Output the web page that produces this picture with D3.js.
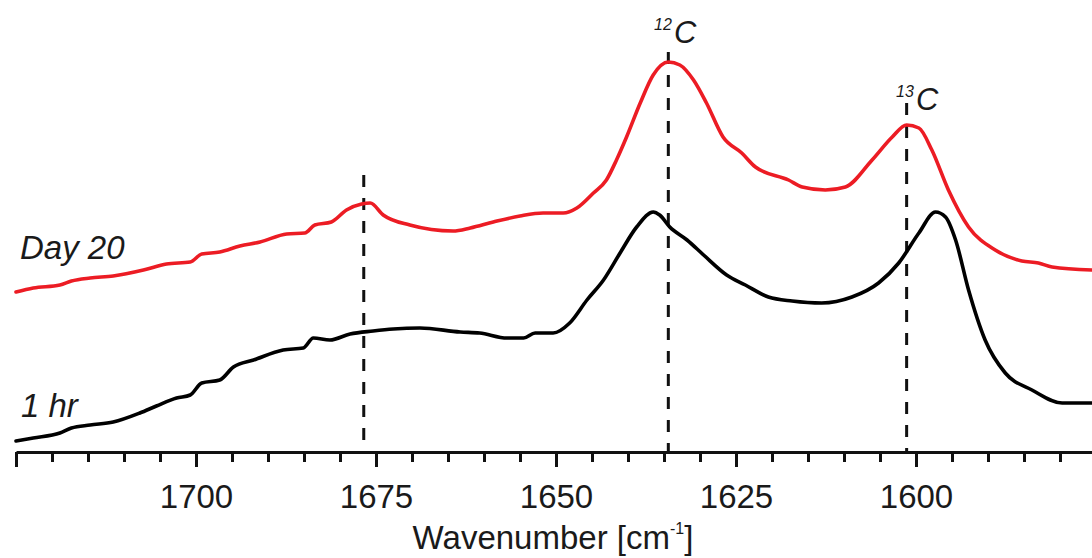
<!DOCTYPE html>
<html>
<head>
<meta charset="utf-8">
<script src="https://cdn.jsdelivr.net/npm/d3@7"></script>
<style>
  html, body { margin: 0; padding: 0; background: #fff; }
  svg { display: block; }
  text { font-family: "Liberation Sans", Arial, Helvetica, sans-serif; fill: #1a1a1a; }
</style>
</head>
<body>
<svg id="chart" width="1092" height="558"></svg>
<script>
// ---- data ----
const day20Wavenumber = [1725.0,1722.6,1718.9,1717.3,1714.7,1711.5,1707.3,1704.1,1700.8,1699.2,1696.7,1693.9,1691.1,1687.4,1684.9,1683.5,1681.2,1679.1,1677.0,1675.8,1674.0,1670.3,1664.3,1661.9,1658.7,1655.0,1651.8,1649.0,1647.1,1644.8,1643.0,1641.6,1640.2,1638.3,1636.5,1634.4,1632.8,1630.9,1629.1,1626.8,1624.2,1622.3,1617.7,1615.8,1612.6,1609.8,1606.1,1603.3,1601.3,1599.6,1597.8,1595.5,1592.7,1589.0,1585.3,1583.0,1581.1,1575.6];
const day20Absorbance = [1.60,1.64,1.67,1.71,1.74,1.76,1.82,1.88,1.90,1.98,2.00,2.06,2.10,2.18,2.19,2.27,2.30,2.42,2.48,2.49,2.37,2.27,2.21,2.24,2.30,2.36,2.39,2.39,2.44,2.59,2.72,2.92,3.15,3.49,3.77,3.90,3.87,3.72,3.49,3.15,2.99,2.85,2.72,2.65,2.62,2.65,2.92,3.15,3.27,3.24,3.02,2.62,2.25,2.02,1.91,1.89,1.85,1.82];

const hr1Wavenumber = [1725.0,1722.6,1718.9,1717.3,1714.7,1711.5,1707.8,1705.5,1702.7,1700.8,1699.2,1696.7,1694.8,1692.0,1687.9,1685.1,1683.7,1681.4,1678.6,1675.4,1672.6,1668.9,1663.3,1660.6,1656.8,1654.5,1652.9,1650.4,1648.1,1645.7,1643.4,1641.1,1638.8,1636.5,1635.6,1634.2,1631.8,1629.5,1626.3,1623.7,1620.5,1617.2,1613.1,1608.9,1605.2,1602.4,1599.6,1597.3,1595.9,1594.5,1592.7,1590.4,1587.6,1583.9,1579.7,1575.6];
const hr1Absorbance = [0.11,0.14,0.19,0.24,0.27,0.30,0.39,0.46,0.54,0.57,0.69,0.72,0.85,0.92,1.02,1.04,1.14,1.12,1.18,1.21,1.23,1.24,1.20,1.19,1.14,1.14,1.19,1.19,1.29,1.52,1.72,1.99,2.25,2.40,2.37,2.25,2.12,1.97,1.77,1.67,1.55,1.51,1.49,1.55,1.69,1.89,2.19,2.40,2.35,2.12,1.62,1.12,0.79,0.62,0.49,0.49];

const seriesNames = ["Day 20", "1 hr"];
const majorTicks = [1725, 1700, 1675, 1650, 1625, 1600];
const majorTickLabels = ["", "1700", "1675", "1650", "1625", "1600"];
const minorTicks = [1720,1715,1710,1705,1695,1690,1685,1680,1670,1665,1660,1655,1645,1640,1635,1630,1620,1615,1610,1605,1595,1590,1585,1580];

const markerWavenumber = [1676.7, 1634.4, 1601.3];
const markerTop = [2.77, 4.00, 3.49];
const isotopeMass = ["12", "13"];
const isotopeElement = "C";
const axisTitle = "Wavenumber [cm";
const axisTitleSup = "-1";

// ---- scales ----
const svg = d3.select("#chart");
const x = d3.scaleLinear().domain([1725, 1575]).range([16, 1096]);
const y = d3.scaleLinear().domain([0, 4.52]).range([452, 0]);

// ---- marker dashed lines ----
svg.append("g").selectAll("line")
  .data(markerWavenumber.map((w, i) => ({w, top: markerTop[i]})))
  .join("line")
  .attr("x1", d => x(d.w)).attr("x2", d => x(d.w))
  .attr("y1", d => y(d.top)).attr("y2", y(0))
  .attr("stroke", "#111")
  .attr("stroke-width", 3)
  .attr("stroke-dasharray", "12,11");

// ---- curves ----
const line = d3.line()
  .x(d => x(d[0])).y(d => y(d[1]))
  .curve(d3.curveMonotoneX);

const hr1 = hr1Wavenumber.map((w, i) => [w, hr1Absorbance[i]]);
const day20 = day20Wavenumber.map((w, i) => [w, day20Absorbance[i]]);

svg.append("path").datum(hr1)
  .attr("d", line).attr("fill", "none")
  .attr("stroke", "#000").attr("stroke-width", 3.6)
  .attr("stroke-linejoin", "round").attr("stroke-linecap", "round");

svg.append("path").datum(day20)
  .attr("d", line).attr("fill", "none")
  .attr("stroke", "#ec1c24").attr("stroke-width", 3.6)
  .attr("stroke-linejoin", "round").attr("stroke-linecap", "round");

// ---- axis ----
const axisY = y(0);
const minorAxis = d3.axisBottom(x).tickValues(minorTicks).tickSizeInner(10).tickSizeOuter(0).tickFormat("");
const gMinor = svg.append("g").attr("transform", `translate(0,${axisY})`).call(minorAxis);
gMinor.select(".domain").remove();
gMinor.selectAll(".tick line").attr("stroke", "#111").attr("stroke-width", 3);

const majorAxis = d3.axisBottom(x).tickValues(majorTicks).tickSizeInner(15).tickSizeOuter(0)
  .tickPadding(18)
  .tickFormat((d, i) => majorTickLabels[i]);
const gMajor = svg.append("g").attr("transform", `translate(0,${axisY})`).call(majorAxis);
gMajor.select(".domain").attr("stroke", "#111").attr("stroke-width", 3.2);
gMajor.selectAll(".tick line").attr("stroke", "#111").attr("stroke-width", 3);
gMajor.selectAll(".tick text")
  .attr("font-family", "'Liberation Sans', Arial, sans-serif")
  .attr("font-size", 33).attr("fill", "#1a1a1a");

// axis title
const title = svg.append("text")
  .attr("x", 553).attr("y", 549)
  .attr("text-anchor", "middle")
  .attr("font-size", 33);
title.append("tspan").text(axisTitle);
title.append("tspan").text(axisTitleSup).attr("font-size", 16).attr("dy", -15);
title.append("tspan").text("]").attr("dy", 15);

// ---- series labels ----
svg.append("text").text(seriesNames[0])
  .attr("x", 20).attr("y", 259)
  .attr("font-size", 33).attr("font-style", "italic");
svg.append("text").text(seriesNames[1])
  .attr("x", 21).attr("y", 417)
  .attr("font-size", 33).attr("font-style", "italic");

// ---- isotope labels ----
function isoLabel(mass, xs, ySup, xc, yc) {
  svg.append("text").text(mass).attr("x", xs).attr("y", ySup)
    .attr("font-size", 16).attr("font-style", "italic");
  svg.append("text").text(isotopeElement).attr("x", xc).attr("y", yc)
    .attr("font-size", 31).attr("font-style", "italic");
}
isoLabel(isotopeMass[0], 654, 30, 674, 43);
isoLabel(isotopeMass[1], 896, 97, 916, 110);
</script>
</body>
</html>
